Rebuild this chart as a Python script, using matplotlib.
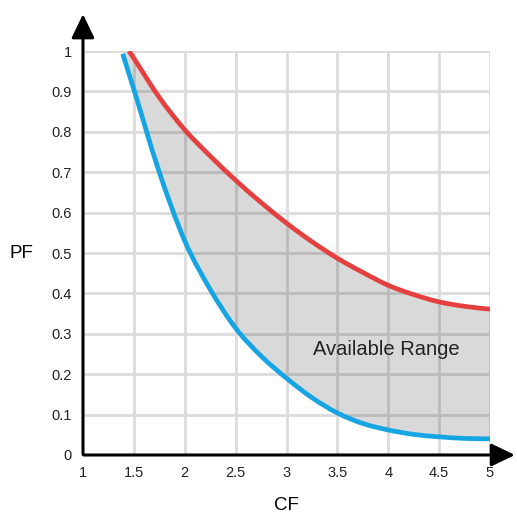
import matplotlib.pyplot as plt
from matplotlib.path import Path
from matplotlib.patches import PathPatch
import numpy as np

plt.rcParams['font.family'] = ['Liberation Sans', 'DejaVu Sans']

# upper (red) and lower (blue) boundaries
red_x = [1.45, 1.5, 1.75, 2.0, 2.25, 2.5, 2.75, 3.0, 3.25, 3.5, 3.75, 4.0, 4.25, 4.5, 4.75, 5.0]
red_y = [1.0, 0.982, 0.885, 0.805, 0.74, 0.68, 0.625, 0.574, 0.528, 0.487, 0.452, 0.42, 0.397, 0.379, 0.368, 0.361]
blue_x = [1.39, 1.5, 1.75, 2.0, 2.25, 2.5, 2.75, 3.0, 3.25, 3.5, 3.75, 4.0, 4.25, 4.5, 4.75, 5.0]
blue_y = [0.993, 0.905, 0.70, 0.53, 0.41, 0.314, 0.245, 0.19, 0.142, 0.104, 0.078, 0.062, 0.051, 0.045, 0.041, 0.04]

x_ticks = [1, 1.5, 2, 2.5, 3, 3.5, 4, 4.5, 5]
x_labels = ["1", "1.5", "2", "2.5", "3", "3.5", "4", "4.5", "5"]
y_ticks = [0, 0.1, 0.2, 0.3, 0.4, 0.5, 0.6, 0.7, 0.8, 0.9, 1]
y_labels = ["0", "0.1", "0.2", "0.3", "0.4", "0.5", "0.6", "0.7", "0.8", "0.9", "1"]


def curve_codes(xs, ys):
    # catmull-rom through the points, as bezier segments
    p = np.column_stack([xs, ys])
    n = len(p)
    verts = [p[0]]
    for i in range(n - 1):
        p0 = p[max(i - 1, 0)]
        p1 = p[i]
        p2 = p[i + 1]
        p3 = p[min(i + 2, n - 1)]
        verts += [p1 + (p2 - p0) / 6, p2 - (p3 - p1) / 6, p2]
    codes = [Path.MOVETO] + [Path.CURVE4] * (3 * (n - 1))
    return verts, codes


fig = plt.figure(figsize=(5.17, 5.16), dpi=100)
ax = fig.add_axes([83 / 517, 1 - 455 / 516, 407 / 517, 404 / 516])
ax.set_xlim(1, 5)
ax.set_ylim(0, 1)

# grid
for xv in x_ticks[1:]:
    ax.axvline(xv, color="#dcdcdc", lw=2, zorder=1)
for yv in y_ticks[1:]:
    ax.axhline(yv, color="#dcdcdc", lw=2, zorder=1)

rv, rc = curve_codes(red_x, red_y)
bv, bc = curve_codes(blue_x[::-1], blue_y[::-1])

# shaded range between the two curves
fill_verts = rv + bv + [rv[0]]
fill_codes = rc + [Path.LINETO] + bc[1:] + [Path.CLOSEPOLY]
ax.add_patch(PathPatch(Path(fill_verts, fill_codes), facecolor="black", alpha=0.15, lw=0, zorder=2))

ax.add_patch(PathPatch(Path(rv, rc), fill=False, edgecolor="#e5403f", lw=3.4, capstyle="butt", zorder=3))
ax.add_patch(PathPatch(Path(bv, bc), fill=False, edgecolor="#16a4e2", lw=3.4, capstyle="butt", zorder=3))

ax.text(3.98, 0.26, "Available Range", fontsize=14.5, ha="center", va="center", color="#222222", zorder=4)

for s in ax.spines.values():
    s.set_visible(False)

# axis arrows
ax.annotate("", xy=(0, 1.098), xytext=(0, -0.005), xycoords="axes fraction",
            arrowprops=dict(arrowstyle="-|>,head_length=1.45,head_width=0.7", color="black", lw=2.2),
            annotation_clip=False)
ax.annotate("", xy=(1.068, 0), xytext=(-0.005, 0), xycoords="axes fraction",
            arrowprops=dict(arrowstyle="-|>,head_length=1.45,head_width=0.7", color="black", lw=2.2),
            annotation_clip=False)

ax.set_xticks(x_ticks, x_labels, fontsize=10.5)
ax.set_yticks(y_ticks, y_labels, fontsize=10.5)
ax.tick_params(length=0, pad=8, colors="#222222")
ax.tick_params(axis="y", pad=8)

ax.set_xlabel("CF", fontsize=13.5, labelpad=12)
ax.set_ylabel("PF", fontsize=13.5, rotation=0, labelpad=22, va="center")

fig.savefig("out.png", dpi=100)
